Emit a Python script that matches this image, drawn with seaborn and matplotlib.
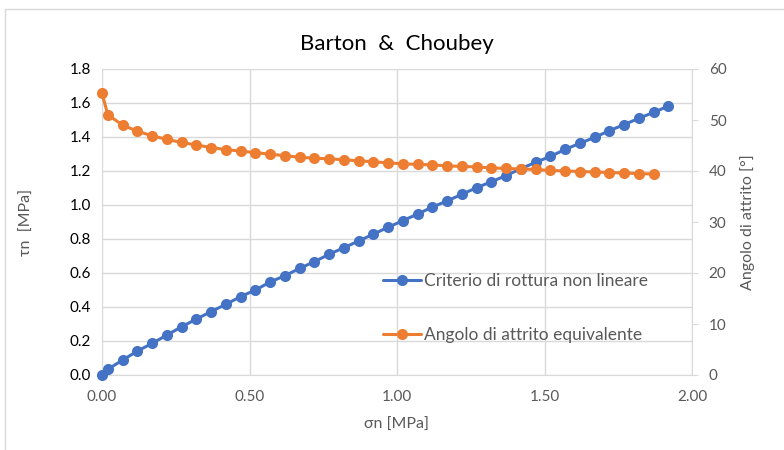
import numpy as np
import pandas as pd
import matplotlib
matplotlib.use("Agg")
import matplotlib.pyplot as plt
import seaborn as sns
from matplotlib.patches import Rectangle

sigma_n = [0.0, 0.02, 0.07, 0.12, 0.17, 0.22, 0.27, 0.32, 0.37, 0.42, 0.47,
           0.52, 0.57, 0.62, 0.67, 0.72, 0.77, 0.82, 0.87, 0.92, 0.97,
           1.02, 1.07, 1.12, 1.17, 1.22, 1.27, 1.32, 1.37, 1.42, 1.47,
           1.52, 1.57, 1.62, 1.67, 1.72, 1.77, 1.82, 1.87, 1.92]
tau_n = [0.0, 0.034, 0.088, 0.141, 0.186, 0.235, 0.284, 0.329, 0.373, 0.416, 0.461,
         0.500, 0.547, 0.584, 0.627, 0.667, 0.710, 0.749, 0.788, 0.829, 0.869,
         0.908, 0.947, 0.988, 1.024, 1.063, 1.102, 1.137, 1.173, 1.214, 1.251,
         1.286, 1.327, 1.363, 1.398, 1.437, 1.473, 1.510, 1.545, 1.582]
angolo = [55.2, 51.0, 49.0, 47.8, 46.9, 46.2, 45.6, 45.1, 44.6, 44.2, 43.9,
          43.6, 43.3, 43.0, 42.7, 42.5, 42.4, 42.2, 42.0, 41.8, 41.6,
          41.4, 41.3, 41.2, 41.0, 40.9, 40.8, 40.6, 40.5, 40.4, 40.3,
          40.1, 40.0, 39.9, 39.8, 39.7, 39.6, 39.5, 39.4]

label_tau = "Criterio di rottura non lineare"
label_ang = "Angolo di attrito equivalente"
blue = "#4472C4"
orange = "#ED7D31"
grid_col = "#D9D9D9"
tick_col = "#595959"

sns.set_style("white")
plt.rcParams["font.family"] = ["Lato", "DejaVu Sans"]

df_tau = pd.DataFrame({"sigma": sigma_n, "tau": tau_n})
df_ang = pd.DataFrame({"sigma": sigma_n[:len(angolo)], "ang": angolo})

fig = plt.figure(figsize=(7.84, 4.5), dpi=100)
ax = fig.add_axes([102 / 784, 75 / 450, 590 / 784, 306 / 450])
ax2 = ax.twinx()

sns.lineplot(data=df_tau, x="sigma", y="tau", ax=ax, color=blue, marker="o",
             markersize=8, markeredgewidth=0, linewidth=2.2, label=label_tau,
             legend=False, clip_on=False, zorder=3)
sns.lineplot(data=df_ang, x="sigma", y="ang", ax=ax2, color=orange, marker="o",
             markersize=8, markeredgewidth=0, linewidth=2.2, label=label_ang,
             legend=False, clip_on=False, zorder=3)

ax.set_xlim(0, 2.0)
ax.set_ylim(0, 1.8)
ax2.set_ylim(0, 60)
ax.set_xticks(np.arange(0, 2.01, 0.5))
ax.set_xticklabels([f"{v:.2f}" for v in np.arange(0, 2.01, 0.5)])
ax.set_yticks(np.arange(0, 1.81, 0.2))
ax.set_yticklabels([f"{v:.1f}" for v in np.arange(0, 1.81, 0.2)])
ax2.set_yticks(np.arange(0, 61, 10))

ax.grid(True, color=grid_col, linewidth=1)
ax.set_axisbelow(True)
for a in (ax, ax2):
    for s in a.spines.values():
        s.set_visible(False)
ax2.spines["right"].set_visible(True)
ax2.spines["right"].set_color(grid_col)
ax.spines["bottom"].set_visible(True)
ax.spines["bottom"].set_color(grid_col)

ax.tick_params(axis="x", colors=tick_col, labelsize=11, length=0, pad=11)
ax.tick_params(axis="y", labelcolor="black", labelsize=11, length=0, pad=8)
ax2.tick_params(axis="y", colors=tick_col, labelsize=11, length=4, pad=8)
ax2.tick_params(axis="y", color=grid_col)

ax.set_xlabel("σn [MPa]", color=tick_col, fontsize=11.5, labelpad=10)
ax.set_ylabel("τn  [MPa]", color=tick_col, fontsize=11.5, labelpad=26)
ax2.set_ylabel("Angolo di attrito [°]", color=tick_col, fontsize=11.5, labelpad=10)
ax.set_title("Barton  &  Choubey", fontsize=16, pad=14, color="black")

h1, l1 = ax.get_legend_handles_labels()
h2, l2 = ax2.get_legend_handles_labels()
leg = ax2.legend(h1 + h2, l1 + l2, loc="upper left", bbox_to_anchor=(0.45, 0.385),
                 frameon=False, fontsize=12.5, labelspacing=2.2, handlelength=2.2,
                 handletextpad=0.15, markerscale=1.0)
for t in leg.get_texts():
    t.set_color(tick_col)

fig.patches.append(Rectangle((5 / 784, -0.1), 1.2, (450 - 9) / 450 + 0.1,
                             transform=fig.transFigure, fill=False,
                             edgecolor=grid_col, linewidth=1))

fig.savefig("out.png", dpi=100)
